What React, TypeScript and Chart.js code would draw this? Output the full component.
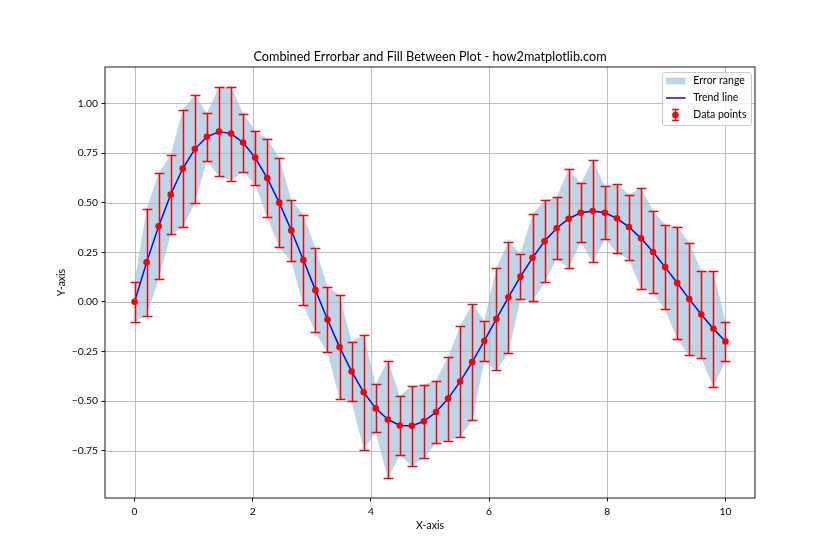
import React, { useEffect, useRef } from "react";
import { Chart, registerables } from "chart.js";

Chart.register(...registerables);

const TITLE = "Combined Errorbar and Fill Between Plot - how2matplotlib.com";
const X_LABEL = "X-axis";
const Y_LABEL = "Y-axis";
const LEGEND_LABELS = ["Error range", "Trend line", "Data points"];

const X_VALUES = [
  0, 0.2041, 0.4082, 0.6122, 0.8163, 1.0204, 1.2245, 1.4286, 1.6327, 1.8367,
  2.0408, 2.2449, 2.449, 2.6531, 2.8571, 3.0612, 3.2653, 3.4694, 3.6735, 3.8776,
  4.0816, 4.2857, 4.4898, 4.6939, 4.898, 5.102, 5.3061, 5.5102, 5.7143, 5.9184,
  6.1224, 6.3265, 6.5306, 6.7347, 6.9388, 7.1429, 7.3469, 7.551, 7.7551, 7.9592,
  8.1633, 8.3673, 8.5714, 8.7755, 8.9796, 9.1837, 9.3878, 9.5918, 9.7959, 10,
];

const Y_VALUES = [
  0, 0.199, 0.381, 0.541, 0.672, 0.77, 0.832, 0.858, 0.848, 0.803,
  0.727, 0.624, 0.5, 0.36, 0.211, 0.059, -0.089, -0.228, -0.351, -0.456,
  -0.537, -0.593, -0.623, -0.625, -0.602, -0.555, -0.488, -0.402, -0.304, -0.197,
  -0.087, 0.023, 0.127, 0.222, 0.305, 0.371, 0.419, 0.449, 0.458, 0.449,
  0.421, 0.377, 0.32, 0.251, 0.175, 0.095, 0.014, -0.064, -0.136, -0.2,
];

const Y_ERRORS = [
  0.1, 0.269, 0.267, 0.2, 0.297, 0.273, 0.12, 0.226, 0.237, 0.146,
  0.136, 0.198, 0.226, 0.155, 0.228, 0.213, 0.166, 0.263, 0.151, 0.289,
  0.121, 0.297, 0.15, 0.202, 0.185, 0.158, 0.211, 0.279, 0.294, 0.102,
  0.258, 0.281, 0.115, 0.219, 0.207, 0.156, 0.249, 0.148, 0.258, 0.133,
  0.174, 0.164, 0.254, 0.208, 0.213, 0.283, 0.284, 0.221, 0.292, 0.1,
];

const X_TICKS = [0, 2, 4, 6, 8, 10];
const Y_TICKS = [-0.75, -0.5, -0.25, 0, 0.25, 0.5, 0.75, 1.0];

const FONT = "Lato, 'Liberation Sans', sans-serif";
const FILL_COLOR = "rgba(31,119,180,0.3)";
const LINE_COLOR = "#0000ff";
const POINT_COLOR = "#ff0000";
const GRID_COLOR = "#b0b0b0";
const LW = 1.45;
const CAP_HALF = 4.9;
const POINT_R = 3.3;

const fmtY = (v: number) => (v < 0 ? "\u2212" + Math.abs(v).toFixed(2) : v.toFixed(2));

export default function App() {
  const canvasRef = useRef<HTMLCanvasElement | null>(null);

  useEffect(() => {
    const canvas = canvasRef.current;
    if (!canvas) return;

    const lower = X_VALUES.map((x, i) => ({ x, y: Y_VALUES[i] - Y_ERRORS[i] }));
    const upper = X_VALUES.map((x, i) => ({ x, y: Y_VALUES[i] + Y_ERRORS[i] }));
    const trend = X_VALUES.map((x, i) => ({ x, y: Y_VALUES[i] }));

    const lo = Math.min(...lower.map((p) => p.y));
    const hi = Math.max(...upper.map((p) => p.y));
    const pad = (hi - lo) * 0.05;
    const xlo = Math.min(...X_VALUES);
    const xhi = Math.max(...X_VALUES);
    const xpad = (xhi - xlo) * 0.05;

    const overlay = {
      id: "overlay",
      afterDatasetDraw(chart: any, args: any) {
        const ctx = chart.ctx as CanvasRenderingContext2D;
        const { left, right, top, bottom } = chart.chartArea;
        const xs = chart.scales.x;
        const ys = chart.scales.y;
        if (args.index === 1) {
          ctx.save();
          ctx.strokeStyle = GRID_COLOR;
          ctx.lineWidth = 0.8;
          X_TICKS.forEach((v) => {
            const p = Math.round(xs.getPixelForValue(v)) + 0.5;
            ctx.beginPath();
            ctx.moveTo(p, top);
            ctx.lineTo(p, bottom);
            ctx.stroke();
          });
          Y_TICKS.forEach((v) => {
            const p = Math.round(ys.getPixelForValue(v)) + 0.5;
            ctx.beginPath();
            ctx.moveTo(left, p);
            ctx.lineTo(right, p);
            ctx.stroke();
          });
          ctx.restore();
        }
        if (args.index === 2) {
          ctx.save();
          ctx.strokeStyle = POINT_COLOR;
          ctx.lineWidth = 1.5;
          X_VALUES.forEach((x, i) => {
            const px = Math.round(xs.getPixelForValue(x)) + 0.5;
            const pt = Math.round(ys.getPixelForValue(Y_VALUES[i] + Y_ERRORS[i])) + 0.5;
            const pb = Math.round(ys.getPixelForValue(Y_VALUES[i] - Y_ERRORS[i])) + 0.5;
            ctx.beginPath();
            ctx.moveTo(px, pt);
            ctx.lineTo(px, pb);
            ctx.moveTo(px - CAP_HALF, pt);
            ctx.lineTo(px + CAP_HALF, pt);
            ctx.moveTo(px - CAP_HALF, pb);
            ctx.lineTo(px + CAP_HALF, pb);
            ctx.stroke();
          });
          ctx.restore();
        }
      },
      afterDraw(chart: any) {
        const ctx = chart.ctx as CanvasRenderingContext2D;
        const { left, right, top, bottom } = chart.chartArea;
        ctx.save();
        // spines
        ctx.strokeStyle = "#000";
        ctx.lineWidth = 0.9;
        ctx.strokeRect(left, top, right - left, bottom - top);

        // title
        ctx.fillStyle = "#000";
        ctx.font = `12.7px ${FONT}`;
        ctx.textAlign = "center";
        ctx.textBaseline = "alphabetic";
        ctx.fillText(TITLE, (left + right) / 2, top - 6);

        // axis labels
        ctx.font = `10.5px ${FONT}`;
        ctx.textBaseline = "middle";
        ctx.fillText(X_LABEL, (left + right) / 2, 526);
        ctx.save();
        ctx.translate(62, (top + bottom) / 2);
        ctx.rotate(-Math.PI / 2);
        ctx.fillText(Y_LABEL, 0, 0);
        ctx.restore();

        // legend
        const bx = 662.5, by = 72.5, bw = 89, bh = 53;
        ctx.beginPath();
        const r = 2.5;
        ctx.moveTo(bx + r, by);
        ctx.lineTo(bx + bw - r, by);
        ctx.quadraticCurveTo(bx + bw, by, bx + bw, by + r);
        ctx.lineTo(bx + bw, by + bh - r);
        ctx.quadraticCurveTo(bx + bw, by + bh, bx + bw - r, by + bh);
        ctx.lineTo(bx + r, by + bh);
        ctx.quadraticCurveTo(bx, by + bh, bx, by + bh - r);
        ctx.lineTo(bx, by + r);
        ctx.quadraticCurveTo(bx, by, bx + r, by);
        ctx.closePath();
        ctx.fillStyle = "rgba(255,255,255,0.8)";
        ctx.fill();
        ctx.strokeStyle = "#cccccc";
        ctx.lineWidth = 1;
        ctx.stroke();

        const hx0 = 666, hx1 = 685.5, hc = 675.5;
        const rows = [81, 98, 115];
        ctx.fillStyle = FILL_COLOR;
        ctx.fillRect(hx0, rows[0] - 3.4, hx1 - hx0, 6.8);
        ctx.strokeStyle = LINE_COLOR;
        ctx.lineWidth = LW;
        ctx.beginPath();
        ctx.moveTo(hx0, rows[1]);
        ctx.lineTo(hx1, rows[1]);
        ctx.stroke();
        ctx.strokeStyle = POINT_COLOR;
        ctx.lineWidth = 1.5;
        ctx.beginPath();
        ctx.moveTo(hc, rows[2] - 5.5);
        ctx.lineTo(hc, rows[2] + 5.5);
        ctx.moveTo(hc - 3.4, rows[2] - 5.5);
        ctx.lineTo(hc + 3.4, rows[2] - 5.5);
        ctx.moveTo(hc - 3.4, rows[2] + 5.5);
        ctx.lineTo(hc + 3.4, rows[2] + 5.5);
        ctx.stroke();
        ctx.fillStyle = POINT_COLOR;
        ctx.beginPath();
        ctx.arc(hc, rows[2], POINT_R, 0, Math.PI * 2);
        ctx.fill();

        ctx.fillStyle = "#000";
        ctx.font = `10.5px ${FONT}`;
        ctx.textAlign = "left";
        ctx.textBaseline = "middle";
        LEGEND_LABELS.forEach((t, i) => ctx.fillText(t, 693.3, rows[i]));
        ctx.restore();
      },
    };

    const chart = new Chart(canvas, {
      type: "line",
      data: {
        datasets: [
          {
            label: "lower",
            data: lower,
            borderWidth: 0,
            borderColor: "rgba(0,0,0,0)",
            pointRadius: 0,
            fill: false,
            order: 4,
          },
          {
            label: LEGEND_LABELS[0],
            data: upper,
            borderWidth: 0,
            borderColor: "rgba(0,0,0,0)",
            backgroundColor: FILL_COLOR,
            pointRadius: 0,
            fill: "-1",
            order: 3,
          },
          {
            label: LEGEND_LABELS[1],
            data: trend,
            borderColor: LINE_COLOR,
            borderWidth: LW,
            pointRadius: 0,
            fill: false,
            tension: 0,
            order: 2,
          },
          {
            label: LEGEND_LABELS[2],
            data: trend,
            showLine: false,
            pointRadius: POINT_R,
            pointBackgroundColor: POINT_COLOR,
            pointBorderColor: POINT_COLOR,
            pointBorderWidth: 0,
            fill: false,
            order: 1,
          },
        ],
      } as any,
      options: {
        responsive: false,
        animation: false,
        devicePixelRatio: 1,
        events: [],
        layout: { padding: { left: 0, right: 85, top: 67, bottom: 0 } },
        plugins: {
          legend: { display: false },
          title: { display: false },
          tooltip: { enabled: false },
        },
        scales: {
          x: {
            type: "linear",
            min: xlo - xpad,
            max: xhi + xpad,
            afterFit: (s: any) => {
              s.height = 62;
            },
            afterBuildTicks: (s: any) => {
              s.ticks = X_TICKS.map((v) => ({ value: v }));
            },
            border: { display: false },
            grid: {
              drawOnChartArea: false,
              drawTicks: true,
              tickLength: 3.5,
              tickColor: "#000",
              tickWidth: 0.9,
            },
            ticks: {
              padding: 3.5,
              color: "#000",
              maxRotation: 0,
              autoSkip: false,
              font: { family: FONT, size: 10.3 },
              callback: (v: any) => String(v),
            },
          },
          y: {
            type: "linear",
            min: lo - pad,
            max: hi + pad,
            afterFit: (s: any) => {
              s.width = 105;
            },
            afterBuildTicks: (s: any) => {
              s.ticks = Y_TICKS.map((v) => ({ value: v }));
            },
            border: { display: false },
            grid: {
              drawOnChartArea: false,
              drawTicks: true,
              tickLength: 3.5,
              tickColor: "#000",
              tickWidth: 0.9,
            },
            ticks: {
              padding: 3.5,
              color: "#000",
              autoSkip: false,
              font: { family: FONT, size: 10.3 },
              callback: (v: any) => fmtY(Number(v)),
            },
          },
        },
      } as any,
      plugins: [overlay],
    });

    return () => chart.destroy();
  }, []);

  return (
    <div
      style={{
        position: "fixed",
        left: 0,
        top: 0,
        width: 840,
        height: 560,
        background: "#ffffff",
      }}
    >
      <canvas ref={canvasRef} width={840} height={560} style={{ width: 840, height: 560, display: "block" }} />
    </div>
  );
}
